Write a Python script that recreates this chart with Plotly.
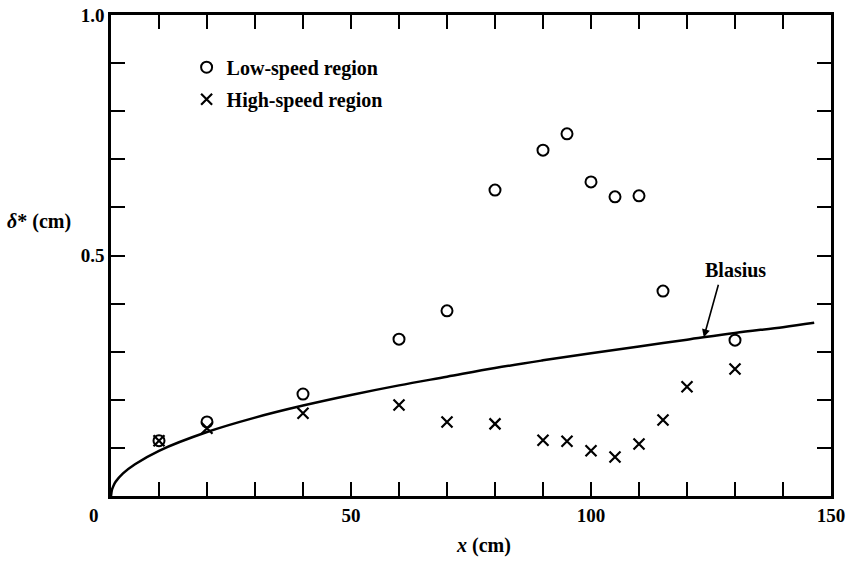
import plotly.graph_objects as go

# Low-speed region (circles)
low_x = [10, 20, 40, 60, 70, 80, 90, 95, 100, 105, 110, 115, 130]
low_y = [0.115, 0.154, 0.212, 0.326, 0.385, 0.636, 0.719, 0.753, 0.653, 0.622, 0.624, 0.426, 0.324]

# High-speed region (crosses)
high_x = [10, 20, 40, 60, 70, 80, 90, 95, 100, 105, 110, 115, 120, 130]
high_y = [0.115, 0.141, 0.172, 0.189, 0.154, 0.150, 0.116, 0.114, 0.094, 0.081, 0.108, 0.158, 0.227, 0.264]

# Blasius curve
blasius_x = [0, 0.2, 0.5, 1, 2.5, 5, 10, 20, 30, 40, 50, 60, 70, 80, 90, 100, 110, 120, 130, 140, 146.5]
blasius_y = [0, 0.013, 0.021, 0.030, 0.047, 0.066, 0.094, 0.133, 0.163, 0.188, 0.210, 0.230, 0.248,
             0.266, 0.282, 0.297, 0.311, 0.325, 0.339, 0.351, 0.360]

x_tickvals = [0, 50, 100, 150]
x_ticktext = ["", "<b>50</b>", "<b>100</b>", "<b>150</b>"]
y_tickvals = [0, 0.5, 1.0]
y_ticktext = ["", "<b>0.5</b>", "<b>1.0</b>"]

FONT = "Liberation Serif"
W, H = 848, 565
ML, MR, MT, MB = 111, 17, 15, 69
PW, PH = W - ML - MR, H - MT - MB


def px(xp):
    return (xp - ML) / PW


def py(yp):
    return (H - MB - yp) / PH


fig = go.Figure()
fig.add_trace(go.Scatter(
    x=blasius_x, y=blasius_y, mode="lines", line=dict(color="black", width=2.5, shape="spline"),
    showlegend=False, hoverinfo="skip"))
fig.add_trace(go.Scatter(
    x=low_x, y=low_y, mode="markers", name="<b>Low-speed region</b>", legendgroup="a",
    marker=dict(symbol="circle-open", size=11, color="black", line=dict(width=2, color="black"))))
fig.add_trace(go.Scatter(
    x=high_x, y=high_y, mode="markers", name="<b>High-speed region</b>", legendgroup="b",
    marker=dict(symbol="x-thin-open", size=11, color="black", line=dict(width=2.2, color="black"))))

axis_common = dict(
    showline=True, linecolor="black", linewidth=2.5, mirror="ticks",
    ticks="inside", ticklen=14, tickwidth=2, tickcolor="black",
    showgrid=False, zeroline=False, automargin=False,
    tickfont=dict(family=FONT, size=19, color="black"),
)

fig.update_xaxes(range=[0, 150], tickvals=x_tickvals, ticktext=x_ticktext,
                 minor=dict(dtick=10, ticks="inside", ticklen=14, tickwidth=2, tickcolor="black"),
                 **axis_common)
fig.update_yaxes(range=[0, 1.0], tickvals=y_tickvals, ticktext=y_ticktext,
                 minor=dict(dtick=0.1, ticks="inside", ticklen=14, tickwidth=2, tickcolor="black"),
                 **axis_common)

fig.update_layout(
    template="none",
    width=W, height=H,
    margin=dict(l=ML, r=MR, t=MT, b=MB, autoexpand=False),
    paper_bgcolor="white", plot_bgcolor="white",
    font=dict(family=FONT, color="black", size=20),
    showlegend=True,
    legend=dict(x=0.105, y=0.932, xanchor="left", yanchor="top", bgcolor="rgba(0,0,0,0)",
                font=dict(family=FONT, size=20, color="black"), traceorder="grouped",
                tracegroupgap=3),
    annotations=[
        dict(x=123.5, y=0.33, xref="x", yref="y", ax=15, ay=-54, text="", showarrow=True,
             arrowhead=2, arrowsize=1, arrowwidth=1.6, arrowcolor="black"),
        dict(x=px(735), y=py(270), xref="paper", yref="paper", text="<b>Blasius</b>", showarrow=False,
             xanchor="center", yanchor="middle", font=dict(family=FONT, size=20, color="black")),
        dict(x=px(94), y=py(515), xref="paper", yref="paper", text="<b>0</b>", showarrow=False,
             xanchor="center", yanchor="middle", font=dict(family=FONT, size=19, color="black")),
        dict(x=px(39), y=py(222), xref="paper", yref="paper", text="<b><i>δ</i>* (cm)</b>",
             showarrow=False, xanchor="center", yanchor="middle",
             font=dict(family=FONT, size=20, color="black")),
        dict(x=px(483), y=py(545), xref="paper", yref="paper", text="<b><i>x</i> (cm)</b>",
             showarrow=False, xanchor="center", yanchor="middle",
             font=dict(family=FONT, size=20, color="black")),
    ],
)

fig.write_html("out.html")
